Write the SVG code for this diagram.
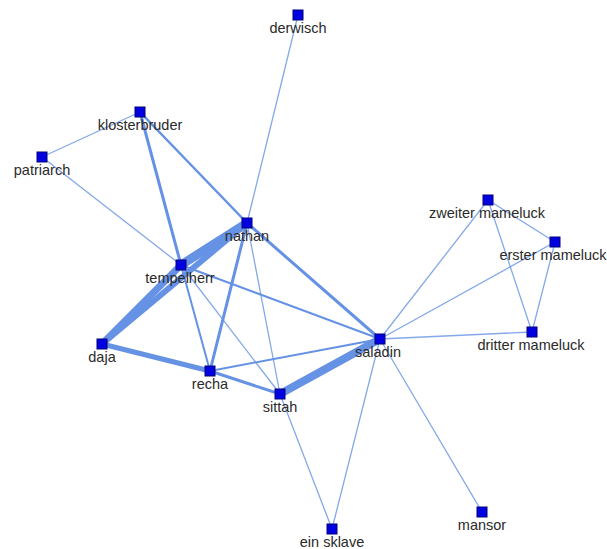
<svg xmlns="http://www.w3.org/2000/svg" width="607" height="549" viewBox="0 0 607 549">
<style>
.e{stroke:#6592e4;stroke-linecap:round;fill:none}
.t{stroke-width:1.3;stroke-opacity:.8}
.n rect{fill:#0000e0;stroke:#00007a;stroke-width:1}
.n text{font-family:"Liberation Sans",Arial,sans-serif;font-size:14.5px;fill:#2a2a2a;text-anchor:middle}
</style>
<rect width="607" height="549" fill="#fff"/>
<g id="connectors">
<line class="e t" x1="298" y1="15" x2="247" y2="223"/>
<line class="e t" x1="140" y1="112" x2="42" y2="157"/>
<line class="e" stroke-width="3" x1="140" y1="112" x2="181" y2="265"/>
<line class="e" stroke-width="2.5" x1="140" y1="112" x2="247" y2="223"/>
<line class="e t" x1="42" y1="157" x2="181" y2="265"/>
<line class="e" stroke-width="9" x1="247" y1="223" x2="181" y2="265"/>
<line class="e" stroke-width="7" x1="102" y1="344" x2="181" y2="265"/>
<line class="e" stroke-width="6" x1="102" y1="344" x2="247" y2="223"/>
<line class="e" stroke-width="3" x1="247" y1="223" x2="380" y2="339"/>
<line class="e" stroke-width="3" x1="247" y1="223" x2="210" y2="371"/>
<line class="e t" x1="247" y1="223" x2="280" y2="394"/>
<line class="e" stroke-width="2" x1="181" y1="265" x2="210" y2="371"/>
<line class="e t" x1="181" y1="265" x2="280" y2="394"/>
<line class="e" stroke-width="2" x1="181" y1="265" x2="380" y2="339"/>
<line class="e" stroke-width="5" x1="102" y1="344" x2="210" y2="371"/>
<line class="e" stroke-width="3" x1="210" y1="371" x2="280" y2="394"/>
<line class="e" stroke-width="2" x1="210" y1="371" x2="380" y2="339"/>
<line class="e" stroke-width="8" x1="280" y1="394" x2="380" y2="339"/>
<line class="e t" x1="280" y1="394" x2="332" y2="529"/>
<line class="e t" x1="380" y1="339" x2="332" y2="529"/>
<line class="e t" x1="380" y1="339" x2="482" y2="512"/>
<line class="e t" x1="380" y1="339" x2="488" y2="200"/>
<line class="e t" x1="380" y1="339" x2="555" y2="242"/>
<line class="e t" x1="380" y1="339" x2="532" y2="332"/>
<line class="e t" x1="488" y1="200" x2="555" y2="242"/>
<line class="e t" x1="488" y1="200" x2="532" y2="332"/>
<line class="e t" x1="555" y1="242" x2="532" y2="332"/>
</g>
<g id="derwisch" class="n"><rect x="293" y="10" width="10" height="10"/><text x="298" y="33">derwisch</text></g>
<g id="klosterbruder" class="n"><rect x="135" y="107" width="10" height="10"/><text x="140" y="130">klosterbruder</text></g>
<g id="patriarch" class="n"><rect x="37" y="152" width="10" height="10"/><text x="42" y="175">patriarch</text></g>
<g id="nathan" class="n"><rect x="242" y="218" width="10" height="10"/><text x="247" y="241">nathan</text></g>
<g id="tempelherr" class="n"><rect x="176" y="260" width="10" height="10"/><text x="180" y="283">tempelherr</text></g>
<g id="daja" class="n"><rect x="97" y="339" width="10" height="10"/><text x="102" y="362">daja</text></g>
<g id="recha" class="n"><rect x="205" y="366" width="10" height="10"/><text x="210" y="389">recha</text></g>
<g id="sittah" class="n"><rect x="275" y="389" width="10" height="10"/><text x="280" y="412">sittah</text></g>
<g id="saladin" class="n"><rect x="375" y="334" width="10" height="10"/><text x="378" y="357">saladin</text></g>
<g id="zweiter-mameluck" class="n"><rect x="483" y="195" width="10" height="10"/><text x="487" y="218">zweiter mameluck</text></g>
<g id="erster-mameluck" class="n"><rect x="550" y="237" width="10" height="10"/><text x="553" y="260">erster mameluck</text></g>
<g id="dritter-mameluck" class="n"><rect x="527" y="327" width="10" height="10"/><text x="531" y="350">dritter mameluck</text></g>
<g id="ein-sklave" class="n"><rect x="327" y="524" width="10" height="10"/><text x="332" y="547">ein sklave</text></g>
<g id="mansor" class="n"><rect x="477" y="507" width="10" height="10"/><text x="482" y="530">mansor</text></g>
</svg>
